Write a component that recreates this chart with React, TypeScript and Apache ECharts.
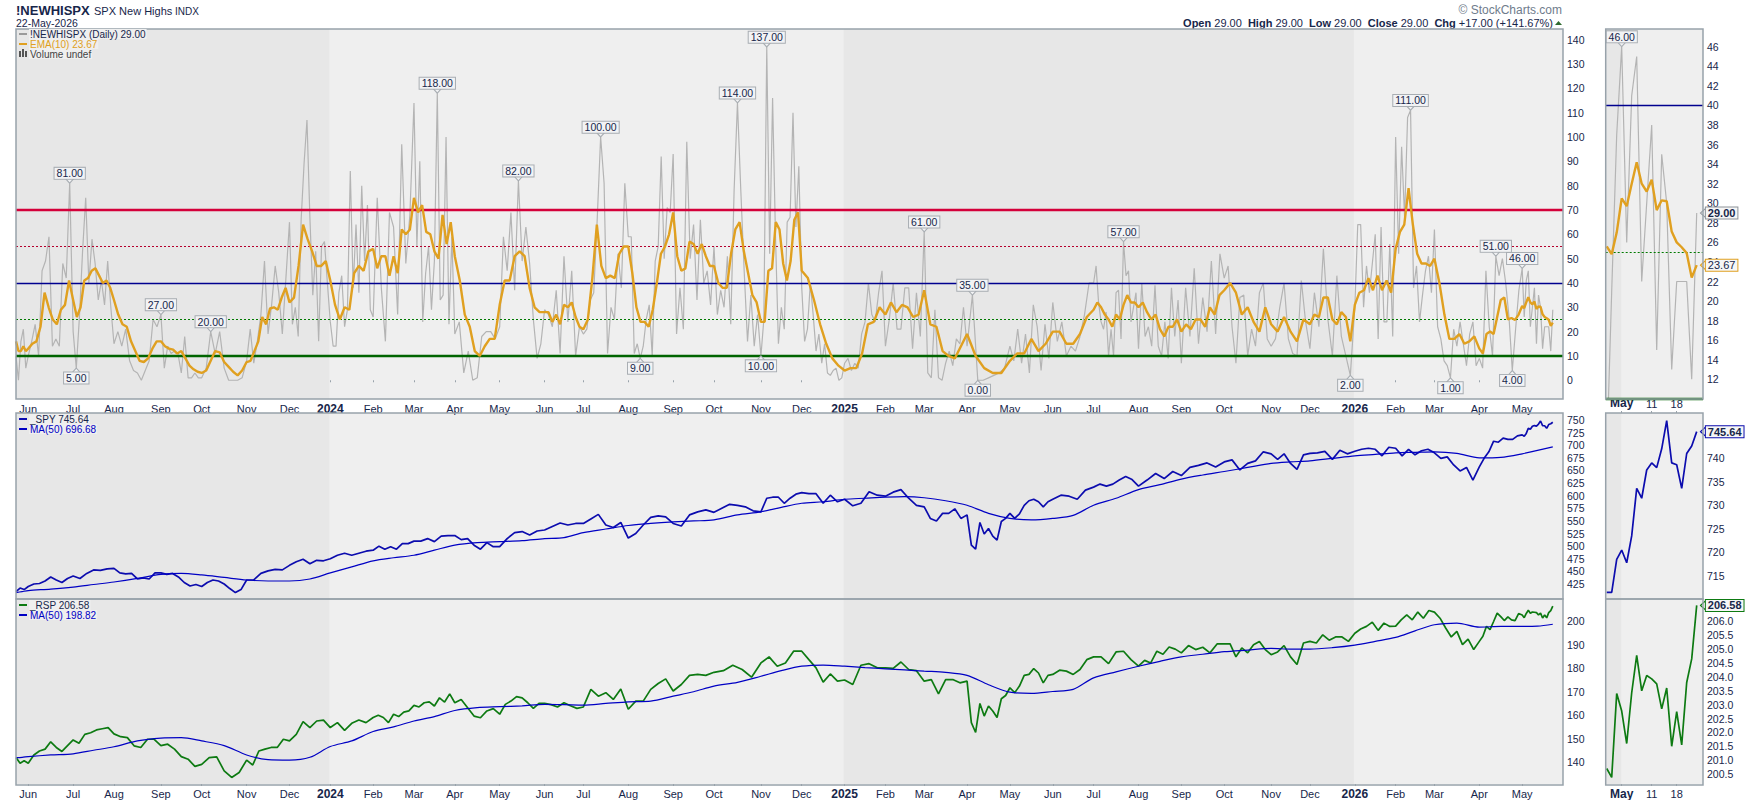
import React, { useEffect, useRef } from 'react'
import * as echarts from 'echarts'

const FONT = '"Liberation Sans", Arial, sans-serif'
const NAVY = '#17264a'
const BORDER = '#98a2aa'

// trading days per month, May 2023 (from the 23rd) to May 2026
const monthDays = [6, 22, 20, 23, 20, 22, 21, 20, 21, 20, 20, 22, 22, 19, 22, 22, 20, 23, 20, 21, 20, 19, 21, 21, 21, 20, 22, 21, 21, 23, 19, 22, 20, 19, 22, 21, 16]
const monthLabels = ['', 'Jun', 'Jul', 'Aug', 'Sep', 'Oct', 'Nov', 'Dec', '2024', 'Feb', 'Mar', 'Apr', 'May', 'Jun', 'Jul', 'Aug', 'Sep', 'Oct', 'Nov', 'Dec', '2025', 'Feb', 'Mar', 'Apr', 'May', 'Jun', 'Jul', 'Aug', 'Sep', 'Oct', 'Nov', 'Dec', '2026', 'Feb', 'Mar', 'Apr', 'May']

// last 19 sessions, the zoomed panels on the right
const zoomDays = ['Apr 28', 'Apr 29', 'Apr 30', 'May 1', 'May 4', 'May 5', 'May 6', 'May 7', 'May 8', 'May 11', 'May 12', 'May 13', 'May 14', 'May 15', 'May 18', 'May 19', 'May 20', 'May 21', 'May 22']
const zoomHighs = [4, 21, 37, 46, 26, 41, 45, 22, 30, 38, 15, 35, 30, 13, 22, 22, 22, 12, 29]
const zoomEma = [25.6, 24.8, 27, 30.5, 29.7, 32, 34.2, 32, 31.2, 32.4, 29.3, 30.3, 30.2, 27.1, 26, 25.5, 24.9, 22.4, 23.67]
const zoomSpy = [711.5, 711.5, 718.5, 720.5, 717.8, 723.5, 733.6, 731.5, 737.5, 739, 738, 742, 748, 739, 738.6, 733.6, 741, 742.6, 745.64]
const zoomRsp = [200.7, 200.38, 203.4, 202.77, 201.6, 203.43, 204.78, 203.5, 204.05, 203.93, 203.75, 202.85, 203.6, 201.5, 202.75, 201.55, 203.8, 204.65, 206.58]

// values per month, one list per entry of monthDays
const highsByMonth = [
  [10, 0, 16, 21, 5],
  [10, 16, 23, 10, 45, 49, 59, 14, 17, 14, 48, 42, 81],
  [20, 5, 26, 53, 75, 40, 58, 48, 33, 41, 31, 49, 30],
  [15, 20, 14, 21, 8, 4, 3, 0, 4, 8, 25, 22],
  [27, 5, 14, 11, 12, 11, 3, 18, 1, 1, 3, 1],
  [1, 5, 20, 11, 20, 5, 0, 0, 0, 1],
  [8, 21, 7, 16, 27, 49, 19, 31, 47, 36, 19, 42],
  [65, 23, 30, 18, 66, 89, 107, 67, 35, 53, 16, 55, 57, 40],
  [24, 14, 14, 36, 43, 22, 29, 86, 38, 64, 36, 80, 49, 72, 29],
  [26, 75, 38, 16, 69, 63, 27, 97, 48, 68],
  [114, 55, 90, 24, 44, 55, 29, 49, 118, 33, 35, 100, 23, 59],
  [19, 24, 3, 12, 0, 1, 18, 20, 20, 17],
  [22, 59, 45, 69, 37, 82, 49, 63, 48, 25, 9, 15],
  [29, 27, 22, 37, 11, 51, 24, 45, 10, 22],
  [19, 21, 33, 36, 66, 100, 81, 11, 30, 25, 52, 38, 81],
  [59, 59, 11, 15, 9, 14, 25, 31, 10, 49, 55, 92, 50, 71, 69],
  [93, 19, 38, 21, 98, 50, 64, 33, 66, 40, 45, 31],
  [55, 27, 37, 30, 51, 23, 78, 114, 78, 45, 16, 35, 14, 27],
  [10, 25, 137, 52, 116, 59, 15, 30, 21, 65, 67, 110, 63, 88],
  [38, 16, 21, 40, 27, 12, 19, 7, 15, 3, 2, 4, 5, 0, 1],
  [7, 9, 4, 7, 5, 19, 24, 40, 27, 24, 36, 45],
  [14, 25, 40, 21, 21, 38, 38, 13, 36, 18],
  [61, 3, 1, 29, 1, 0, 7, 12, 6, 17, 15, 30],
  [14, 35, 0, 0, 1, 2, 3, 5],
  [14, 8, 21, 7, 19, 3, 31, 22, 4, 23, 9],
  [32, 16, 24, 10, 14, 12, 18, 27, 40],
  [40, 47, 32, 24, 21, 28, 10, 21, 10, 36, 37, 17, 57, 43, 45, 24, 30, 36],
  [13, 40, 18, 22, 14, 39, 14, 10, 24, 9, 38, 18, 33],
  [7, 38, 18, 46, 15, 34, 20, 49, 19, 52],
  [42, 47, 22, 7, 34, 35, 10, 21, 14, 36, 40, 17],
  [14, 17, 30, 40, 17, 11, 10, 41, 24],
  [13, 36, 22, 54, 25, 10, 43, 18, 10, 2],
  [30, 64, 64, 30, 47, 36, 48, 60, 17, 63, 24, 24, 56, 18],
  [100, 52, 96, 67, 108, 111, 38, 47, 24, 35, 45, 51, 36],
  [62, 22, 17, 8, 6, 1, 21, 14, 24, 15, 6, 19, 24, 6],
  [9, 5, 45, 22, 10, 51, 43, 50, 40, 26, ...zoomHighs.slice(0, 3)],
  zoomHighs.slice(3),
]

const emaByMonth = [
  [16, 12, 12, 14, 12],
  [13, 15, 16, 22, 36, 30, 25, 23, 29, 31, 41],
  [33, 26, 30, 41, 42, 45, 46, 43, 40, 41, 38],
  [33, 27, 23, 22, 16, 12, 8, 7.5, 9, 13, 16],
  [16, 14, 13, 12.6, 11, 12, 9, 6, 4.5, 3.5],
  [3, 4, 8, 12, 11.5, 7.5, 5.5, 3.5, 2, 4],
  [7.5, 8, 12, 16, 26, 23, 29.5, 30, 29, 34, 38],
  [32, 34, 47, 64, 58, 53, 47, 47, 49],
  [41, 31, 25, 30, 29, 44, 47, 45, 53],
  [54, 46, 51, 51, 43, 51, 44, 62, 60, 62],
  [75, 69, 72, 61, 60, 53, 50, 68, 56, 65],
  [51, 41, 27, 22, 12, 10, 14, 17, 17],
  [31, 41, 41, 51, 53, 51, 38, 30, 28],
  [28, 28, 24, 27, 23, 31, 30, 32, 26, 22],
  [21, 25, 42, 64, 47, 42, 43, 42, 52, 55],
  [55, 44, 30, 24, 24, 22, 29, 40, 52, 55, 60],
  [69, 51, 45, 46, 57, 56, 52, 56, 51, 47],
  [47, 40, 38, 38, 52, 62, 65, 53, 44, 35, 32],
  [24, 24, 45, 46, 65, 62, 48, 41, 49, 66, 69],
  [45, 42, 33, 23, 15, 9, 6],
  [4, 5, 5, 11, 23, 24, 30],
  [27, 32, 28, 31, 30, 26, 27],
  [37, 23, 22, 12, 10, 9, 14],
  [19, 10, 5, 3, 3],
  [8, 11, 11, 17, 12, 15],
  [20, 20, 15, 15, 19, 26],
  [29, 32, 30, 27, 25, 22, 27, 25, 31, 35, 32, 32],
  [30, 32, 28, 25, 27, 21, 18, 22, 22, 25],
  [20, 23, 21, 25, 25, 22, 30, 27, 35],
  [37, 40, 36, 27, 30, 24, 20, 30],
  [23, 20, 26, 20, 16, 25],
  [23, 27, 26, 34, 34, 25, 23, 28, 26, 16],
  [31, 36, 37, 42, 37, 43, 37, 41, 36],
  [54, 61, 64, 79, 64, 52, 48, 48, 47],
  [50, 40, 27, 17, 17, 19, 15, 16, 18],
  [13, 11, 19, 20, 19, 26, 33, 34, 25, ...zoomEma.slice(0, 3)],
  zoomEma.slice(3),
]

const spyByMonth = [
  [410, 417, 414],
  [420, 425, 426, 431, 439, 433, 428, 436],
  [441, 436, 446, 453, 452, 455],
  [456, 447, 445, 446, 435, 437, 435, 447],
  [447, 444, 446, 439, 428, 421, 424],
  [420, 428, 433, 431, 425, 416, 408, 414],
  [433, 433, 446, 451, 454, 453],
  [462, 469, 474, 465, 472, 471],
  [475, 482, 486, 482, 486, 490],
  [492, 500, 494, 499, 494, 505, 505],
  [510, 510, 515, 509, 520, 521],
  [521, 513, 515, 502, 494, 507, 499],
  [499, 515, 527, 529, 522, 530],
  [532, 539, 546, 542, 545],
  [545, 554, 563, 542, 537, 547],
  [516, 525, 542, 557, 560, 558],
  [545, 540, 562, 568, 572],
  [567, 575, 583, 581, 578, 570],
  [568, 595, 597, 597, 585, 595, 603],
  [606, 604, 604, 585, 601, 588],
  [593, 580, 585, 608, 601],
  [599, 607, 612, 595, 581],
  [578, 555, 550, 565, 565, 574, 555],
  [562, 502, 494, 547, 524, 535, 520, 512, 549, 555],
  [565, 555, 564, 581, 590, 593, 588, 578, 588],
  [593, 601, 599, 593, 611],
  [617, 623, 619, 623, 631, 638, 632],
  [619, 631, 644, 634, 648],
  [640, 656, 660, 665, 657],
  [667, 671, 651, 664, 669, 687],
  [683, 672, 683, 664, 652, 681],
  [684, 685, 688, 672, 690, 683],
  [688, 692, 694, 692, 679, 696],
  [694, 679, 692, 681, 689, 692],
  [685, 674, 677, 661, 649, 656, 631],
  [657, 674, 687, 708, 706, 714, ...zoomSpy.slice(0, 3)],
  zoomSpy.slice(3),
]

const spyMaByMonth = [
  [408, 410], [412, 415], [419, 424], [429, 436], [444, 446], [443, 438], [433, 431], [431, 435],
  [447, 459], [471, 477], [482, 492], [502, 507], [509, 511], [515, 517], [527, 534], [541, 545],
  [548, 550], [552, 562], [568, 577], [585, 588], [593, 595], [597, 598], [596, 590], [581, 565],
  [555, 552], [555, 561], [581, 595], [612, 622], [633, 641], [648, 656], [664, 667], [669, 674],
  [679, 682], [685, 686], [687, 684], [675, 676], [683, 690, 696.68],
]

const rspByMonth = [
  [141.9, 139.5, 140.5],
  [139.5, 143, 144.7, 145.5, 148.6, 146.2, 144.5, 147],
  [149.4, 148, 151.8, 152.5, 153.7, 154.2, 154.7],
  [152, 150.8, 150.4, 146.9, 146.2, 149.7, 149.7],
  [147, 147.6, 145.5, 142.3, 141.2, 138.1],
  [139, 141.9, 142.2, 136.2, 133.4, 135.5],
  [140.8, 138.7, 144.7, 145.5, 146.2, 146.2, 149.7],
  [149, 151.8, 157.2, 154.7, 157.5, 157.9],
  [154.7, 156.8, 153.5, 156.5, 157.9, 156.8],
  [159, 160, 159, 156.8, 160.4, 159.4, 161.3, 161.8],
  [164.2, 163.5, 165.3, 165.7, 163.9, 167.4, 165.6, 169.1],
  [165.3, 166.7, 163.2, 159.6, 158.9, 161.8, 162.8],
  [160.4, 164.6, 166, 167.9, 167.4, 165.3, 162.9, 165],
  [165, 164.5, 163.5, 165.3, 164, 162.9],
  [163.5, 171, 168.1, 169.6, 166.7, 171.2],
  [162.5, 166, 166, 171, 173.5, 175.5],
  [170.3, 173.1, 177, 177.4, 177],
  [178.3, 179, 181.3, 179.5, 176.2],
  [182.3, 184.9, 180.9, 182.3, 187.3],
  [187.3, 183.7, 180.2, 174.1, 177.6, 174.5],
  [175, 173.1, 181.3, 182, 180.2],
  [180.2, 180, 182.7, 179.5, 179],
  [174.5, 175.2, 169.1, 175.2, 175.2, 173.8],
  [174.5, 156.8, 152.6, 165, 159.6, 163.9, 161.8, 159, 167, 168.4],
  [171.7, 169.6, 172.4, 177, 177.4, 179.9, 178, 173.8, 177],
  [177.4, 179.2, 178.8, 177.4, 179.5, 183.7],
  [184.9, 184.9, 182, 187, 187.3, 183.7],
  [180.9, 183.4, 182.3, 187.3, 186, 189.1, 188.2],
  [186.6, 189.7, 188, 189, 186.6, 190.4],
  [190.4, 190.4, 184.9, 188.7, 186.6, 190.1, 191.5, 188],
  [185.8, 187, 189.7, 184.9, 181.6, 190.8],
  [191.5, 190.8, 194.3, 192, 193.4, 193.4, 191.5],
  [195, 196.8, 197.9, 199.7, 196.2, 199.3, 197.9],
  [198, 200.7, 202.8, 200.7, 204, 201.4, 204.7],
  [204, 201.4, 197.2, 193.4, 195.8, 190.1, 192.5, 188],
  [191.5, 193.7, 197.9, 196.5, 200, 203.6, 202.1, 200.4, 202, ...zoomRsp.slice(0, 3)],
  zoomRsp.slice(3),
]

const rspMaByMonth = [
  [141.9, 142], [142.3, 143], [143.5, 145], [146.5, 149], [150.2, 150.4], [149, 147], [143, 141], [140.8, 142],
  [146.6, 149], [153, 155], [157.5, 159.4], [162, 163.2], [163.6, 164], [164.6, 164.5], [164.3, 165], [165.7, 166],
  [168.1, 170], [172.4, 174], [176.6, 179], [180.9, 181.4], [180.9, 180.3], [179.8, 179.3], [178.8, 178.3], [177, 173],
  [169.8, 169.3], [170.1, 171], [175.9, 178.5], [180.9, 183], [184.9, 186], [187.1, 187.8], [188.5, 188.2], [188.2, 188.8],
  [189.9, 191.5], [193.2, 196], [198.6, 199.3], [197.6, 197.9], [197.9, 198, 198.82],
]

// labelled extremes: index into monthDays, value, where the box sits
const callouts: Array<[number, number, 'top' | 'bottom']> = [
  [1, 81, 'top'], [2, 5, 'bottom'], [4, 27, 'top'], [5, 20, 'top'], [10, 118, 'top'], [12, 82, 'top'], [14, 100, 'top'],
  [15, 9, 'bottom'], [17, 114, 'top'], [18, 137, 'top'], [18, 10, 'bottom'], [22, 61, 'top'], [23, 35, 'top'], [23, 0, 'bottom'],
  [26, 57, 'top'], [31, 2, 'bottom'], [33, 111, 'top'], [34, 1, 'bottom'], [35, 51, 'top'], [35, 4, 'bottom'], [36, 46, 'top'],
]

const thresholds = [
  { value: 70, color: '#d4003a', width: 2.4, type: 'solid' },
  { value: 55, color: '#b5002d', width: 1, type: [2, 2] },
  { value: 40, color: '#00008f', width: 1.3, type: 'solid' },
  { value: 25, color: '#007a00', width: 1, type: [2, 2] },
  { value: 10, color: '#006400', width: 2.4, type: 'solid' },
]

const range = (from: number, to: number, step: number) => {
  const out: number[] = []
  for (let v = from; v <= to + 1e-9; v += step) out.push(Math.round(v * 100) / 100)
  return out
}

const monthStarts = monthDays.map((_, i) => monthDays.slice(0, i).reduce((a, b) => a + b, 0))
const lastDay = monthDays.reduce((a, b) => a + b, 0) - 1

// lays a month's values evenly over that month's sessions
const spread = (byMonth: number[][]) =>
  byMonth.flatMap((vals, m) => {
    const step = m === byMonth.length - 1 ? (monthDays[m] - 1) / (vals.length - 1) : monthDays[m] / vals.length
    return vals.map((v, j) => [monthStarts[m] + j * step, v])
  })

const highs = spread(highsByMonth)

const calloutData = (points: number[][], items: Array<[number, number, 'top' | 'bottom', number?]>) =>
  items.map(([m, value, side, at]) => {
    let x = at
    if (x === undefined) {
      const inMonth = points.filter(p => p[0] >= monthStarts[m] && p[0] < monthStarts[m] + monthDays[m])
      x = inMonth.find(p => p[1] === value)![0]
    }
    return {
      coord: [x, value],
      symbolRotate: side === 'top' ? 180 : 0,
      symbolOffset: [0, side === 'top' ? -2.5 : 2.5],
      label: { position: side, distance: -1, formatter: value.toFixed(2) },
    }
  })

const calloutStyle = {
  symbol: 'triangle',
  symbolSize: [9, 5],
  itemStyle: { color: '#f2f3f5', borderColor: '#a8adb2', borderWidth: 1 },
  label: {
    show: true, color: NAVY, fontFamily: FONT, fontSize: 10.5, lineHeight: 11, backgroundColor: '#f2f3f5',
    borderColor: '#a8adb2', borderWidth: 1, padding: [0, 2, 0, 2],
  },
}

const lastValueMark = (x: number, value: number, text: string, color: string, bold = true) => ({
  symbol: 'triangle',
  symbolSize: [9, 5],
  symbolRotate: 90,
  itemStyle: { color: '#f6f6f6', borderColor: color, borderWidth: 1 },
  data: [{ coord: [x, value] }],
  label: {
    show: true, position: 'right', distance: 0, formatter: text, color: NAVY, fontFamily: FONT, fontSize: 11, lineHeight: 11,
    fontWeight: bold ? 'bold' : 'normal', backgroundColor: '#f6f6f6', borderColor: color, borderWidth: 1, padding: [0, 2, 0, 2],
  },
})

const thresholdLines = (items: typeof thresholds) => ({
  silent: true,
  symbol: 'none',
  label: { show: false },
  data: items.map(t => ({ yAxis: t.value, lineStyle: { color: t.color, width: t.width, type: t.type as any } })),
})

const yearShade = {
  silent: true,
  itemStyle: { color: '#e7e7e7' },
  data: [
    [{ xAxis: 0 }, { xAxis: monthStarts[8] - 0.5 }],
    [{ xAxis: monthStarts[20] - 0.5 }, { xAxis: monthStarts[32] - 0.5 }],
  ],
}

const zoomShade = {
  silent: true,
  itemStyle: { color: '#e7e7e7' },
  data: [[{ xAxis: -0.2 }, { xAxis: 2.9 }]],
}

const zoomPairs = (vals: number[]) => vals.map((v, i) => [i, v])

const MAIN_LEFT = 16, MAIN_WIDTH = 1547, ZOOM_LEFT = 1605.7, ZOOM_WIDTH = 97.3
const rows = [
  { top: 29, height: 370 },
  { top: 413, height: 186 },
  { top: 599, height: 186 },
]

const panels = [
  ...rows.map(r => ({ left: MAIN_LEFT, width: MAIN_WIDTH, ...r })),
  ...rows.map(r => ({ left: ZOOM_LEFT, width: ZOOM_WIDTH, ...r })),
]
const grids = panels.map(g => ({ ...g, show: true, backgroundColor: '#efefef', borderWidth: 0 }))

// panel frames go above the year shading
const frames = panels.map(g => ({
  type: 'rect', silent: true, z: 40,
  shape: { x: g.left, y: g.top, width: g.width, height: g.height },
  style: { fill: 'none', stroke: BORDER, lineWidth: 1.5 },
}))

const mainLabelDays = monthStarts.slice(1)
const mainXAxis = (gridIndex: number, labels: boolean, position: string) => ({
  type: 'value', gridIndex, min: 0, max: lastDay + 5, position,
  splitLine: { show: false },
  axisLine: { show: false },
  axisTick: { show: true, length: 2, customValues: mainLabelDays, lineStyle: { color: BORDER } },
  axisLabel: {
    show: labels, customValues: mainLabelDays, margin: 4, color: NAVY, fontFamily: FONT, fontSize: 11,
    formatter: (v: number) => {
      const text = monthLabels[monthStarts.indexOf(v)]
      return /^\d/.test(text) ? `{y|${text}}` : text
    },
    rich: { y: { fontWeight: 'bold', fontSize: 12, color: NAVY, fontFamily: FONT } },
  },
})

const zoomLabelDays = [3, 9, 14]
const zoomXAxis = (gridIndex: number, labels: boolean, position: string) => ({
  type: 'value', gridIndex, min: -0.2, max: 19.26, position,
  splitLine: { show: false },
  axisLine: { show: false },
  axisTick: { show: labels || position === 'top', length: 2, customValues: zoomLabelDays, lineStyle: { color: BORDER } },
  axisLabel: {
    show: labels, customValues: zoomLabelDays, margin: 4, color: NAVY, fontFamily: FONT, fontSize: 11,
    formatter: (v: number) => {
      const text = zoomDays[v].split(' ')
      return text[1] === '1' ? `{y|${text[0]}}` : text[1]
    },
    rich: { y: { fontWeight: 'bold', fontSize: 12, color: NAVY, fontFamily: FONT } },
  },
})

const yAxis = (gridIndex: number, min: number, max: number, labels: number[], ticks: number[], decimals = 0) => ({
  type: 'value', gridIndex, min, max, position: 'right', scale: true,
  splitLine: { show: false },
  axisLine: { show: false },
  axisTick: { show: true, length: 3, customValues: ticks, lineStyle: { color: BORDER } },
  axisLabel: {
    customValues: labels, margin: 4, color: NAVY, fontFamily: FONT, fontSize: 10.5,
    formatter: (v: number) => v.toFixed(decimals),
  },
})

const line = (xAxisIndex: number, data: number[][], color: string, width: number, extra: object = {}) => ({
  type: 'line', xAxisIndex, yAxisIndex: xAxisIndex, data, symbol: 'none', silent: true,
  lineStyle: { color, width }, ...extra,
})

const HIGHS_GREY = '#b4b4b4'
const EMA_GOLD = '#e0a020'
const SPY_BLUE = '#0c0cae'
const MA_BLUE = '#0000c4'
const RSP_GREEN = '#0d7a12'

// upper rows sit above lower ones so the row's background can't cover an underscore or bracket
const legendText = (x: number, y: number, z: number, text: string, fill: string) => ({
  type: 'text', x, y, z, style: { text, fill, font: `10px ${FONT}`, verticalAlign: 'middle', backgroundColor: '#efefef', padding: [0, 1] },
})
const swatch = (y: number, fill: string) => ({
  type: 'rect', shape: { x: 19, y: y - 1, width: 8, height: 2 }, style: { fill }, z: 60,
})

const graphic = [
  ...frames,
  { type: 'text', x: 16, y: 4, style: { text: '!NEWHISPX', fill: NAVY, font: `bold 13px ${FONT}` } },
  { type: 'text', x: 94, y: 5, style: { text: 'SPX New Highs', fill: NAVY, font: `11px ${FONT}` } },
  { type: 'text', x: 175, y: 6, style: { text: 'INDX', fill: NAVY, font: `10px ${FONT}` } },
  { type: 'text', x: 16, y: 17, style: { text: '22-May-2026', fill: NAVY, font: `10.5px ${FONT}` } },
  { type: 'text', x: 1562, y: 4, style: { text: '\u00a9 StockCharts.com', fill: '#6f7c8c', font: `12px ${FONT}`, align: 'right' } },
  {
    type: 'text', x: 1553, y: 17,
    style: {
      align: 'right', fill: NAVY, font: `11px ${FONT}`,
      text: '{b|Open} 29.00  {b|High} 29.00  {b|Low} 29.00  {b|Close} 29.00  {b|Chg} +17.00 (+141.67%)',
      rich: { b: { font: `bold 11px ${FONT}`, fill: NAVY } },
    },
  },
  { type: 'polygon', shape: { points: [[1555, 25], [1562, 25], [1558.5, 21]] }, style: { fill: '#2f6b2f' } },

  swatch(34, '#9a9a9a'), legendText(29, 34, 55, '!NEWHISPX (Daily) 29.00', NAVY),
  swatch(44, EMA_GOLD), legendText(29, 44, 54, 'EMA(10) 23.67', EMA_GOLD),
  { type: 'rect', shape: { x: 19, y: 51, width: 2, height: 6 }, style: { fill: '#555' }, z: 60 },
  { type: 'rect', shape: { x: 22, y: 49, width: 2, height: 8 }, style: { fill: '#555' }, z: 60 },
  { type: 'rect', shape: { x: 25, y: 51, width: 2, height: 6 }, style: { fill: '#555' }, z: 60 },
  legendText(29, 54, 53, 'Volume undef', '#444'),

  swatch(419, SPY_BLUE), legendText(29, 419, 55, '_SPY 745.64', NAVY),
  swatch(429, MA_BLUE), legendText(29, 429, 54, 'MA(50) 696.68', MA_BLUE),

  swatch(605, RSP_GREEN), legendText(29, 605, 55, '_RSP 206.58', NAVY),
  swatch(615, MA_BLUE), legendText(29, 615, 54, 'MA(50) 198.82', MA_BLUE),
]

const option = {
  animation: false,
  textStyle: { fontFamily: FONT },
  graphic,
  grid: grids,
  xAxis: [
    mainXAxis(0, true, 'bottom'), mainXAxis(1, false, 'top'), mainXAxis(2, true, 'bottom'),
    zoomXAxis(3, false, 'bottom'), zoomXAxis(4, true, 'top'), zoomXAxis(5, true, 'bottom'),
  ],
  yAxis: [
    yAxis(0, -7.7, 144.4, range(0, 140, 10), range(-6, 144, 2)),
    yAxis(1, 395.3, 763.9, range(425, 750, 25), range(400, 760, 5)),
    yAxis(2, 130.6, 209.6, range(140, 200, 10), range(132, 208, 2)),
    yAxis(3, 9.99, 47.81, range(12, 46, 2), range(12, 46, 2)),
    yAxis(4, 710.1, 749.6, range(715, 740, 5), range(711, 749, 1)),
    yAxis(5, 200.14, 206.81, range(200.5, 206, 0.5), range(200.2, 206.8, 0.1), 1),
  ],
  series: [
    line(0, highs, HIGHS_GREY, 1.2, {
      markArea: yearShade,
      markLine: thresholdLines(thresholds),
      markPoint: { ...calloutStyle, data: calloutData(highs, callouts) },
    }),
    line(0, spread(emaByMonth), EMA_GOLD, 2.4, { z: 5 }),

    line(1, spread(spyByMonth), SPY_BLUE, 1.7, { markArea: yearShade }),
    line(1, spread(spyMaByMonth), MA_BLUE, 1.2, { smooth: 0.3 }),

    line(2, spread(rspByMonth), RSP_GREEN, 1.7, { markArea: yearShade }),
    line(2, spread(rspMaByMonth), MA_BLUE, 1.2, { smooth: 0.3 }),

    line(3, zoomPairs(zoomHighs), HIGHS_GREY, 1.2, {
      markArea: zoomShade,
      markLine: thresholdLines(thresholds.filter(t => t.value !== 70 && t.value !== 55)),
      markPoint: { ...calloutStyle, data: calloutData([], [[0, 46, 'top', 3]]) },
    }),
    line(3, zoomPairs(zoomEma), EMA_GOLD, 2.4, {
      z: 5,
      markPoint: lastValueMark(19.26, 23.67, '23.67', EMA_GOLD, false),
    }),
    line(3, [], HIGHS_GREY, 1, { markPoint: lastValueMark(19.26, 29, '29.00', '#8d9399') }),

    line(4, zoomPairs(zoomSpy), SPY_BLUE, 1.7, {
      markArea: zoomShade,
      markPoint: lastValueMark(19.26, 745.64, '745.64', SPY_BLUE),
    }),

    line(5, zoomPairs(zoomRsp), RSP_GREEN, 1.7, {
      markArea: zoomShade,
      markPoint: lastValueMark(19.26, 206.58, '206.58', RSP_GREEN),
    }),
  ],
}

export default function App() {
  const chartRef = useRef<HTMLDivElement>(null)

  useEffect(() => {
    if (!chartRef.current) return
    const chart = echarts.init(chartRef.current, undefined, { renderer: 'svg' })
    chart.setOption(option as any)
    return () => chart.dispose()
  }, [])

  return <div ref={chartRef} style={{ position: 'fixed', left: 0, top: 0, width: 1750, height: 800, background: '#fff' }} />
}
